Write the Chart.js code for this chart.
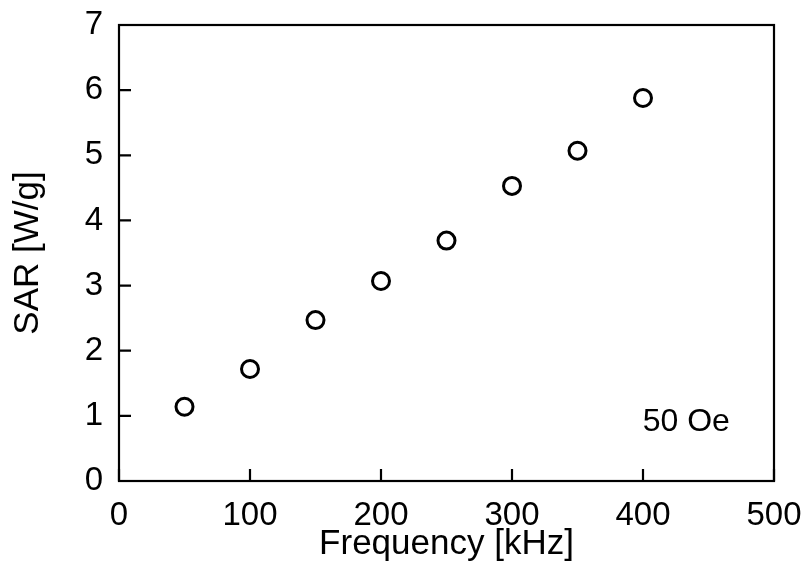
<!DOCTYPE html>
<html>
<head>
<meta charset="utf-8">
<script src="https://cdn.jsdelivr.net/npm/chart.js@4/dist/chart.umd.min.js"></script>
<style>
  html, body { margin: 0; padding: 0; background: #fff; }
  #wrap { width: 807px; height: 566px; }
</style>
</head>
<body>
<div id="wrap"><canvas id="c" width="807" height="566"></canvas></div>
<script>
const frequencies = [50, 100, 150, 200, 250, 300, 350, 400];
const sarValues = [1.14, 1.72, 2.47, 3.07, 3.69, 4.53, 5.07, 5.88];
const xTicks = [0, 100, 200, 300, 400, 500];
const yTicks = [0, 1, 2, 3, 4, 5, 6, 7];
const xTitle = 'Frequency [kHz]';
const yTitle = 'SAR [W/g]';
const noteText = '50 Oe';
const notePos = [433, 0.9];

const FONT = '"Liberation Sans", Arial, Helvetica, sans-serif';

const framePlugin = {
  id: 'frame',
  afterDatasetsDraw(chart) {
    const ctx = chart.ctx;
    const a = chart.chartArea;
    const xs = chart.scales.x, ys = chart.scales.y;
    ctx.save();
    ctx.strokeStyle = '#000';
    ctx.lineWidth = 2.2;
    ctx.strokeRect(a.left, a.top, a.right - a.left, a.bottom - a.top);
    const tl = 12;
    ctx.beginPath();
    xTicks.forEach(v => {
      const px = xs.getPixelForValue(v);
      ctx.moveTo(px, a.bottom);
      ctx.lineTo(px, a.bottom - tl);
    });
    yTicks.forEach(v => {
      const py = ys.getPixelForValue(v);
      ctx.moveTo(a.left, py);
      ctx.lineTo(a.left + tl, py);
    });
    ctx.stroke();
    ctx.fillStyle = '#000';
    ctx.font = '32px ' + FONT;
    ctx.textAlign = 'center';
    ctx.textBaseline = 'middle';
    ctx.fillText(noteText, xs.getPixelForValue(notePos[0]), ys.getPixelForValue(notePos[1]));
    ctx.restore();
  }
};

function zeroPad(s) {
  s.paddingTop = 0; s.paddingBottom = 0; s.paddingLeft = 0; s.paddingRight = 0;
}

new Chart(document.getElementById('c'), {
  type: 'scatter',
  data: {
    datasets: [{
      data: frequencies.map((f, i) => ({ x: f, y: sarValues[i] })),
      showLine: false,
      pointStyle: 'circle',
      pointRadius: 8.5,
      pointHoverRadius: 8.5,
      pointBorderWidth: 3,
      pointBorderColor: '#000',
      pointBackgroundColor: 'rgba(255,255,255,0)'
    }]
  },
  options: {
    responsive: false,
    animation: false,
    devicePixelRatio: 1,
    layout: { padding: { left: 7, right: 33, top: 25, bottom: 0 } },
    plugins: { legend: { display: false }, tooltip: { enabled: false } },
    scales: {
      x: {
        type: 'linear',
        min: 0, max: 500,
        afterBuildTicks: s => { s.ticks = xTicks.map(v => ({ value: v })); },
        afterFit: s => { s.height = 85; zeroPad(s); },
        grid: { display: false, drawTicks: false },
        border: { display: false },
        ticks: { color: '#000', font: { family: FONT, size: 33 }, padding: 15, maxRotation: 0, autoSkip: false },
        title: { display: true, text: xTitle, color: '#000', font: { family: FONT, size: 35 }, padding: { top: 0, bottom: 1 } }
      },
      y: {
        type: 'linear',
        min: 0, max: 7,
        afterBuildTicks: s => { s.ticks = yTicks.map(v => ({ value: v })); },
        afterFit: s => { s.width = 112; zeroPad(s); },
        grid: { display: false, drawTicks: false },
        border: { display: false },
        ticks: { color: '#000', font: { family: FONT, size: 33 }, padding: 16, autoSkip: false },
        title: { display: true, text: yTitle, color: '#000', font: { family: FONT, size: 35 }, padding: { top: 0, bottom: 0 } }
      }
    }
  },
  plugins: [framePlugin]
});
</script>
</body>
</html>
